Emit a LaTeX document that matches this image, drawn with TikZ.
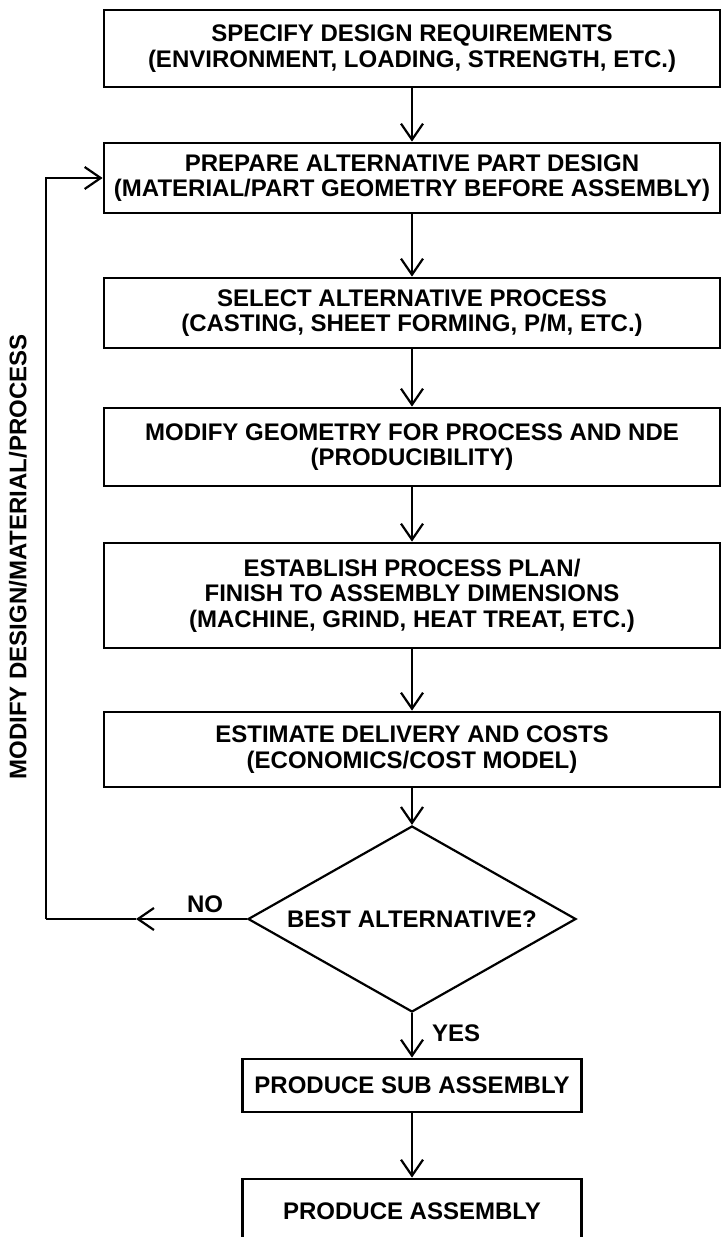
\documentclass[tikz,border=0pt]{standalone}
\usepackage{fontspec}
\setmainfont{Liberation Sans}
\usetikzlibrary{shapes.geometric,arrows.meta}
\tikzset{
  txt/.style={font=\fontsize{24}{25.5}\selectfont\bfseries, align=center, inner sep=0pt},
  box/.style={txt, draw, line width=2.8pt, minimum width=616, anchor=center},
  arr/.style={line width=2.2pt, -{Straight Barb[length=16pt,width=22pt,line width=2.2pt]}},
  plainline/.style={line width=2.2pt},
}
\begin{document}
\begin{tikzpicture}[x=1pt,y=-1pt]
\useasboundingbox (0,0) rectangle (722,1237);
\clip (0,0) rectangle (722,1237);
\node[box, minimum height=77] (b1) at (412,48.5) {SPECIFY DESIGN REQUIREMENTS\\(ENVIRONMENT, LOADING, STRENGTH, ETC.)};
\node[box, minimum height=70] (b2) at (412,178) {PREPARE ALTERNATIVE PART DESIGN\\(MATERIAL/PART GEOMETRY BEFORE ASSEMBLY)};
\node[box, minimum height=70] (b3) at (412,313) {SELECT ALTERNATIVE PROCESS\\(CASTING, SHEET FORMING, P/M, ETC.)};
\node[box, minimum height=78] (b4) at (412,447) {MODIFY GEOMETRY FOR PROCESS AND NDE\\(PRODUCIBILITY)};
\node[box, minimum height=105] (b5) at (412,595.5) {ESTABLISH PROCESS PLAN/\\FINISH TO ASSEMBLY DIMENSIONS\\(MACHINE, GRIND, HEAT TREAT, ETC.)};
\node[box, minimum height=75] (b6) at (412,749.5) {ESTIMATE DELIVERY AND COSTS\\(ECONOMICS/COST MODEL)};
\node[txt, draw, diamond, line width=2.2pt, aspect=1.76, minimum width=328, minimum height=186] (d) at (412,919) {BEST ALTERNATIVE?};
\node[box, minimum width=339, minimum height=53] (b7) at (412,1085.5) {PRODUCE SUB ASSEMBLY};
\node[box, minimum width=339, minimum height=64] (b8) at (412,1211) {PRODUCE ASSEMBLY};

\draw[arr] (b1.south) -- (b2.north);
\draw[arr] (b2.south) -- (b3.north);
\draw[arr] (b3.south) -- (b4.north);
\draw[arr] (b4.south) -- (b5.north);
\draw[arr] (b5.south) -- (b6.north);
\draw[arr] (b6.south) -- (d.north);
\draw[arr] (d.south) -- (b7.north);
\draw[arr] (b7.south) -- (b8.north);

\coordinate (nomid) at (136,919);
\coordinate (fb) at (46,919);
\draw[arr] (d.west) -- (nomid);
\draw[plainline] (nomid) -- (fb);
\draw[arr] (fb) |- (b2.west);

\node[txt] (no) at (205,904) {NO};
\node[txt, anchor=west] (yes) at (432,1033) {YES};
\node[txt, rotate=90] (side) at (18,557) {MODIFY DESIGN/MATERIAL/PROCESS};
\end{tikzpicture}
\end{document}
